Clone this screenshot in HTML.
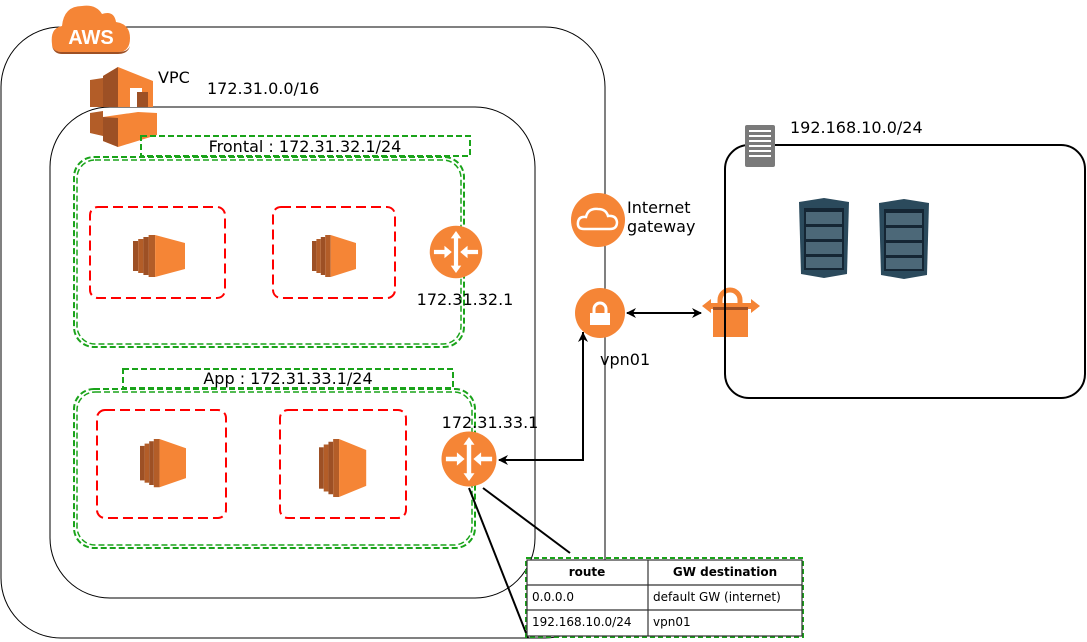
<!DOCTYPE html>
<html><head><meta charset="utf-8"><style>
body{margin:0;background:#fff;}
svg{display:block;font-family:"DejaVu Sans","Liberation Sans",sans-serif;}
</style></head><body>
<svg width="1087" height="642" viewBox="0 0 1087 642" xmlns="http://www.w3.org/2000/svg">
<defs>
<marker id="ah" markerWidth="10" markerHeight="10" refX="9" refY="5" orient="auto" markerUnits="userSpaceOnUse"><path d="M0,0 L10,5 L0,10 L3,5z" fill="#000"/></marker>
<g id="ec2">
<path d="M0,6 h4 v30 h-4z" fill="#9d5025"/>
<path d="M4,4 h4 v34 h-4z" fill="#b35d28"/>
<path d="M8,2 h4 v38 h-4z" fill="#9d5025"/>
<path d="M12,0 h5 v42 h-5z" fill="#b35d28"/>
<path d="M17,0 L40,8 V34 L17,42z" fill="#f58536"/>
</g>
<g id="router">
<circle r="25" fill="#f58536"/><path d="M-24,4 A25,25 0 0 0 24,4 A25,25 0 0 1 -24,4" fill="#9d5025" opacity=".5"/>
<path d="M0,-20 L5,-13 H2 V13 H5 L0,20 L-5,13 H-2 V-13 H-5z" fill="#fff"/>
<path d="M-21,-2 H-11 V-6 L-4,0 L-11,6 V2 H-21z" fill="#fff"/>
<path d="M21,-2 H11 V-6 L4,0 L11,6 V2 H21z" fill="#fff"/>
</g>
<g id="rack">
<path d="M0,4 L25,0 L50,4 L48,76 L25,80 L2,76z" fill="#2b4a5c"/>
<path d="M5,10 H45 V72 H5z" fill="#152634"/>
<path d="M7,14 H43 V26 H7z M7,29 H43 V41 H7z M7,44 H43 V56 H7z M7,59 H43 V70 H7z" fill="#4c6878"/>
</g>
</defs>
<rect x="1" y="27" width="604" height="611" rx="60" fill="none" stroke="#000" stroke-width="1"/>
<rect x="50" y="107" width="485" height="491" rx="60" fill="none" stroke="#000" stroke-width="1"/>
<path d="M52,44 Q50,28 62,26 Q64,6 82,6 Q96,4 102,14 Q114,10 116,22 Q130,24 130,38 Q130,52 118,52 H62 Q52,52 52,44z" fill="#f58536"/>
<path d="M52,46 Q54,52 62,52 H118 Q128,52 130,46 Q128,54 118,54 H62 Q54,54 52,46z" fill="#9d5025"/>
<text x="91" y="44" font-size="20" font-weight="bold" fill="#fff" text-anchor="middle" font-family="Liberation Sans,sans-serif">AWS</text>
<g>
<path d="M90,80 L103,78 V107 H90z" fill="#b35d28"/>
<path d="M103,76 L118,67 L153,81 V107 H103z" fill="#f58536"/>
<path d="M103,76 L118,67 V107 H103z" fill="#9d5025"/>
<path d="M130,88 H142 V107 H130z" fill="#fff"/><path d="M137,92 H148 V107 H137z" fill="#9d5025"/>
<path d="M90,113 L103,111 V136 L90,133z" fill="#b35d28"/>
<path d="M103,117 L138,112 L157,113 V135 L118,147 L103,141z" fill="#f58536"/>
<path d="M103,117 V141 L118,147 V118z" fill="#9d5025"/>
</g>
<text x="158" y="83" font-size="16">VPC</text>
<text x="207" y="94" font-size="16">172.31.0.0/16</text>
<rect x="141" y="136" width="329" height="20" fill="none" stroke="#1aa31a" stroke-width="2" stroke-dasharray="6,3"/>
<text x="305" y="152" font-size="16" text-anchor="middle">Frontal : 172.31.32.1/24</text>
<rect x="74" y="157" width="390" height="190" rx="20" fill="none" stroke="#1aa31a" stroke-width="2" stroke-dasharray="6,3"/>
<rect x="77" y="160" width="384" height="184" rx="18" fill="none" stroke="#1aa31a" stroke-width="1.5" stroke-dasharray="6,3"/>
<rect x="90" y="207" width="135" height="91" rx="8" fill="none" stroke="#f00" stroke-width="2" stroke-dasharray="10,5"/>
<rect x="273" y="207" width="122" height="91" rx="8" fill="none" stroke="#f00" stroke-width="2" stroke-dasharray="10,5"/>
<g transform="translate(133,235) scale(1.3,1)"><use href="#ec2"/></g>
<g transform="translate(312,235) scale(1.1,1)"><use href="#ec2"/></g>
<use href="#router" transform="translate(456,252) scale(1.05)"/>
<text x="465" y="305" font-size="16" text-anchor="middle">172.31.32.1</text>
<rect x="123" y="369" width="330" height="19" fill="none" stroke="#1aa31a" stroke-width="2" stroke-dasharray="6,3"/>
<text x="288" y="384" font-size="16" text-anchor="middle">App : 172.31.33.1/24</text>
<rect x="74" y="389" width="401" height="159" rx="20" fill="none" stroke="#1aa31a" stroke-width="2" stroke-dasharray="6,3"/>
<rect x="77" y="392" width="395" height="153" rx="18" fill="none" stroke="#1aa31a" stroke-width="1.5" stroke-dasharray="6,3"/>
<rect x="97" y="410" width="129" height="108" rx="8" fill="none" stroke="#f00" stroke-width="2" stroke-dasharray="10,5"/>
<rect x="280" y="410" width="126" height="108" rx="8" fill="none" stroke="#f00" stroke-width="2" stroke-dasharray="10,5"/>
<g transform="translate(140,439) scale(1.15,1.15)"><use href="#ec2"/></g>
<g transform="translate(319,439) scale(1.18,1.38)"><use href="#ec2"/></g>
<use href="#router" transform="translate(469,459) scale(1.1)"/>
<text x="490" y="428" font-size="16" text-anchor="middle">172.31.33.1</text>
<path d="M583,332 V460 H499" fill="none" stroke="#000" stroke-width="2" marker-end="url(#ah)"/>
<path d="M583,390 V333" fill="none" stroke="#000" stroke-width="2" marker-end="url(#ah)"/>
<line x1="483" y1="488" x2="570" y2="553" stroke="#000" stroke-width="2"/>
<line x1="469" y1="488" x2="528" y2="638" stroke="#000" stroke-width="2"/>
<line x1="640" y1="313" x2="701" y2="313" stroke="#000" stroke-width="2" marker-end="url(#ah)"/>
<line x1="680" y1="313" x2="627" y2="313" stroke="#000" stroke-width="2" marker-end="url(#ah)"/>
<circle cx="598" cy="220" r="27" fill="#f58536"/>
<path d="M584,229 Q577,229 578,222 Q579,216 586,217 Q588,208 598,209 Q606,209 608,216 Q616,215 617,222 Q617,229 610,229z" fill="none" stroke="#fff" stroke-width="2.5"/>
<text x="627" y="213" font-size="16">Internet</text>
<text x="627" y="232" font-size="16">gateway</text>
<circle cx="600" cy="313" r="25" fill="#f58536"/>
<rect x="590" y="313" width="20" height="12" fill="#fff"/>
<path d="M594,313 V309 A6,6 0 0 1 606,309 V313" fill="none" stroke="#fff" stroke-width="3"/>
<text x="600" y="365" font-size="16">vpn01</text>
<path d="M702,306 L711,299 V303 H751 V299 L760,306 L751,313 V309 H711 V313z" fill="#f58536"/>
<rect x="713" y="307" width="35" height="30" fill="#f58536"/>
<path d="M720,307 V300 A10,10 0 0 1 740,300 V307" fill="none" stroke="#f58536" stroke-width="5"/>
<rect x="713" y="307" width="35" height="3" fill="#9d5025"/>
<rect x="725" y="145" width="360" height="253" rx="24" fill="none" stroke="#000" stroke-width="2"/>
<rect x="745" y="125" width="30" height="42" rx="2" fill="#7a7a7a"/>
<g fill="#fff">
<rect x="749" y="130" width="22" height="2"/><rect x="749" y="135" width="22" height="2"/><rect x="749" y="140" width="22" height="2"/><rect x="749" y="145" width="22" height="2"/><rect x="749" y="150" width="22" height="2"/><rect x="749" y="155" width="22" height="2"/>
</g>
<text x="790" y="133" font-size="16">192.168.10.0/24</text>
<use href="#rack" transform="translate(799,198)"/>
<use href="#rack" transform="translate(879,199)"/>
<rect x="526" y="558" width="277" height="79" fill="none" stroke="#1aa31a" stroke-width="2" stroke-dasharray="5,3"/>
<rect x="527" y="560" width="275" height="76" fill="#fff" stroke="#333" stroke-width="1.2"/>
<line x1="648" y1="560" x2="648" y2="636" stroke="#333" stroke-width="1.2"/>
<line x1="527" y1="585" x2="802" y2="585" stroke="#333" stroke-width="1.2"/>
<line x1="527" y1="610" x2="802" y2="610" stroke="#333" stroke-width="1.2"/>
<g font-size="12">
<text x="587" y="576" font-weight="bold" text-anchor="middle">route</text>
<text x="725" y="576" font-weight="bold" text-anchor="middle">GW destination</text>
<text x="532" y="601">0.0.0.0</text>
<text x="653" y="601">default GW (internet)</text>
<text x="532" y="626">192.168.10.0/24</text>
<text x="653" y="626">vpn01</text>
</g>
</svg>
</body></html>
